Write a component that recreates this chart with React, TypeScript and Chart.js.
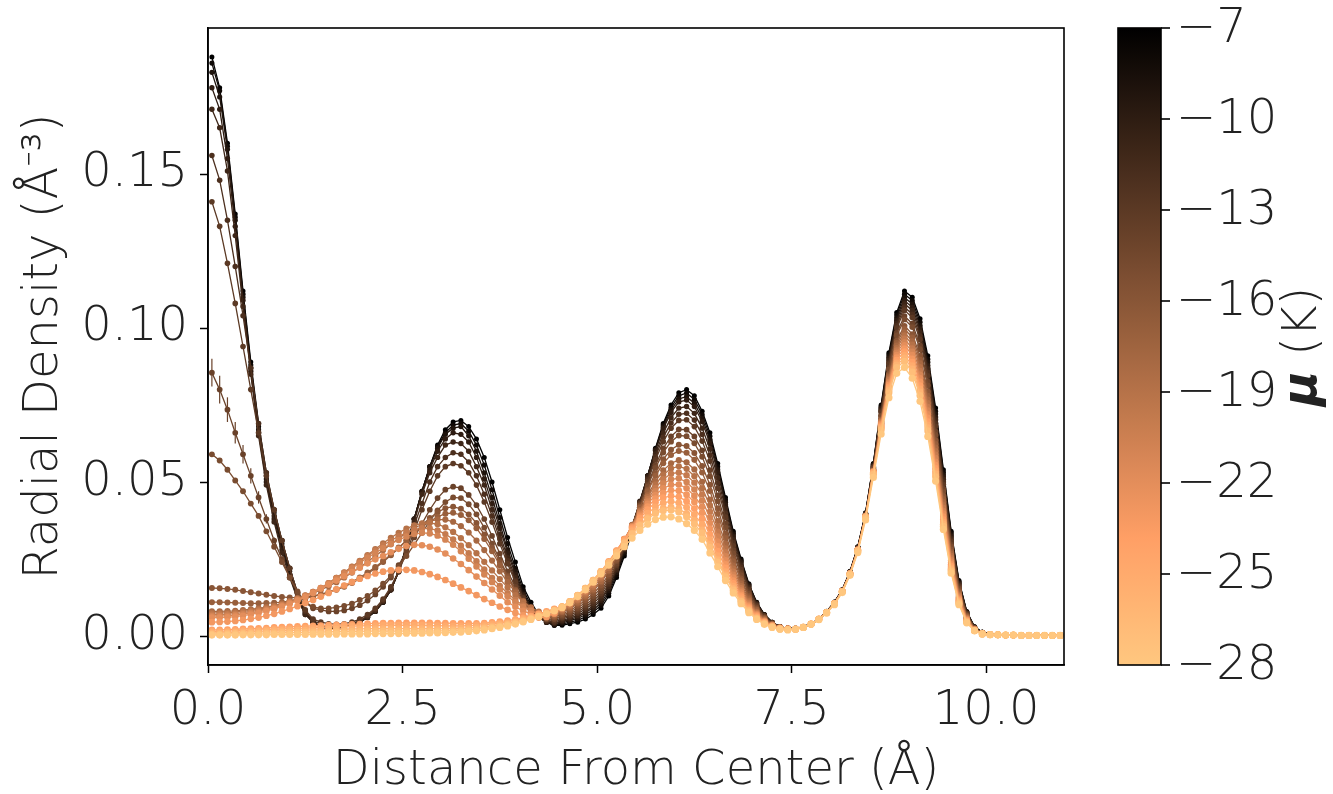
import { useEffect, useRef } from 'react';
import { Chart, registerables } from 'chart.js';

Chart.register(...registerables);

// Distance from the center (Å), bin centres
const distance = [
  0.05, 0.15, 0.25, 0.35, 0.45, 0.55, 0.65, 0.75, 0.85, 0.95,
  1.05, 1.15, 1.25, 1.35, 1.45, 1.55, 1.65, 1.75, 1.85, 1.95,
  2.05, 2.15, 2.25, 2.35, 2.45, 2.55, 2.65, 2.75, 2.85, 2.95,
  3.05, 3.15, 3.25, 3.35, 3.45, 3.55, 3.65, 3.75, 3.85, 3.95,
  4.05, 4.15, 4.25, 4.35, 4.45, 4.55, 4.65, 4.75, 4.85, 4.95,
  5.05, 5.15, 5.25, 5.35, 5.45, 5.55, 5.65, 5.75, 5.85, 5.95,
  6.05, 6.15, 6.25, 6.35, 6.45, 6.55, 6.65, 6.75, 6.85, 6.95,
  7.05, 7.15, 7.25, 7.35, 7.45, 7.55, 7.65, 7.75, 7.85, 7.95,
  8.05, 8.15, 8.25, 8.35, 8.45, 8.55, 8.65, 8.75, 8.85, 8.95,
  9.05, 9.15, 9.25, 9.35, 9.45, 9.55, 9.65, 9.75, 9.85, 9.95,
  10.05, 10.15, 10.25, 10.35, 10.45, 10.55, 10.65, 10.75, 10.85, 10.95,
];

// Chemical potentials (K) of the curves
const muValues = [-7, -8, -9, -10, -11, -12, -13, -14, -15, -16, -17, -18, -19, -20, -21, -22, -23, -24, -25, -26, -27, -28];

// Radial density (Å^-3), one array per chemical potential
const rhoMu7 = [.188,.178,.160,.137,.112,.089,.069,.053,.041,.031,.022,.014,.008,.0045,.003,
  .0025,.0025,.003,.0035,.0045,.006,.008,.011,.015,.021,.029,.038,.047,.055,.062,.067,.0695,.070,.068,.064,.058,.050,.041,.032,.024,.016,.011,.007,.0045,.0035,
  .0035,.004,.0045,.0055,.007,.009,.013,.019,.026,.034,.043,.052,.061,.069,.075,.079,.080,.078,.073,.066,.056,.045,.034,.025,.017,.011,.007,.0045,.003,.0025,
  .0025,.003,.004,.0055,.008,.011,.015,.021,.029,.040,.056,.075,.092,.105,.112,.110,.103,.091,.074,.054,.034,.018,.008,.003,.0012,.0006,
  .0004,.0003,.0003,.0002,.0002,.0002,.0002,.0002,.0002];
const rhoMu8 = [.186,.177,.159,.136,.111,.088,.068,.052,.040,.030,.021,.013,.0075,.0045,.003,
  .0025,.0025,.003,.0035,.0045,.006,.008,.011,.015,.021,.029,.038,.047,.055,.0615,.066,.0685,.069,.0665,.062,.0555,.0475,.0385,.030,.022,.015,.010,.0065,.0045,.0035,
  .0039,.0045,.0051,.0062,.0078,.0099,.0139,.0198,.0267,.0345,.0433,.052,.0607,.0685,.0742,.078,.0789,.0768,.0719,.0649,.055,.0442,.0334,.0246,.0167,.0109,.0069,.0045,.003,.0025,
  .0025,.003,.004,.0055,.0079,.011,.015,.0209,.0289,.0398,.0558,.0746,.0914,.1042,.111,.1089,.1019,.0899,.073,.0532,.0335,.0177,.0078,.003,.0012,.0006,
  .0004,.0003,.0003,.0002,.0002,.0002,.0002,.0002,.0002];
const rhoMu9 = [.183,.175,.158,.135,.110,.087,.067,.051,.039,.029,.020,.013,.0075,.0045,.003,
  .0025,.0026,.003,.0036,.0046,.006,.008,.011,.015,.021,.029,.038,.047,.055,.061,.0655,.0675,.068,.065,.060,.053,.045,.0365,.028,.021,.014,.0095,.0062,.0044,.0037,
  .0043,.005,.0057,.0069,.0085,.0107,.0147,.0206,.0273,.035,.0436,.052,.0605,.0679,.0734,.077,.0777,.0756,.0707,.0638,.054,.0434,.0329,.0242,.0165,.0107,.0069,.0044,.003,.0025,
  .0025,.0029,.0039,.0055,.008,.0109,.0149,.0208,.0288,.0398,.0556,.0741,.0907,.1033,.1099,.1078,.1008,.0889,.0721,.0524,.0329,.0174,.0078,.0028,.0012,.0006,
  .0004,.0003,.0003,.0002,.0002,.0002,.0002,.0002,.0002];
const rhoMu10 = [.178,.171,.155,.133,.109,.086,.066,.050,.038,.028,.020,.012,.007,.0045,.003,
  .0026,.0027,.0031,.0037,.0047,.0061,.0081,.0111,.015,.021,.029,.038,.0465,.054,.060,.064,.066,.0655,.063,.058,.051,.043,.035,.027,.020,.0135,.009,.006,.0045,.004,
  .0047,.0054,.0062,.0075,.0093,.0115,.0155,.0213,.028,.0355,.0438,.052,.0602,.0673,.0726,.076,.0766,.0745,.0696,.0626,.0531,.0426,.0323,.0238,.0162,.0106,.0068,.0044,.003,.0025,
  .0024,.0029,.004,.0054,.0079,.0109,.0149,.0208,.0287,.0396,.0554,.0738,.0901,.1025,.1089,.1067,.0997,.0878,.0711,.0517,.0324,.0171,.0076,.0028,.0012,.0006,
  .0004,.0003,.0003,.0002,.0002,.0002,.0002,.0002,.0002];
const rhoMu11 = [.171,.165,.151,.130,.107,.085,.065,.049,.037,.027,.019,.012,.007,.0045,.003,
  .0027,.0028,.0032,.0038,.0048,.0062,.0082,.0112,.015,.0208,.0285,.037,.046,.053,.058,.062,.063,.0625,.060,.055,.049,.041,.033,.0255,.019,.013,.0088,.006,.0047,.0042,
  .005,.0058,.0067,.008,.0098,.0121,.0161,.0217,.0282,.0354,.0434,.0513,.0591,.0659,.0709,.074,.0745,.0723,.0675,.0607,.0514,.0413,.0313,.0231,.0158,.0103,.0067,.0043,.003,.0025,
  .0024,.003,.004,.0055,.0079,.0108,.0148,.0207,.0286,.0395,.055,.0733,.0895,.1016,.1079,.1057,.0986,.0868,.0702,.0509,.0318,.0168,.0074,.0028,.0012,.0006,
  .0004,.0003,.0003,.0002,.0002,.0002,.0002,.0002,.0002];
const rhoMu12 = [.156,.148,.135,.120,.104,.087,.069,.053,.041,.031,.022,.014,.008,.005,.0038,
  .003,.003,.0033,.004,.005,.0065,.0085,.0115,.0155,.021,.028,.036,.043,.050,.055,.058,.0595,.059,.0565,.052,.046,.039,.0315,.0245,.018,.0125,.0086,.0062,.005,.0045,
  .0055,.0063,.0073,.0088,.0106,.013,.0169,.0224,.0287,.0357,.0433,.0508,.0582,.0645,.0692,.072,.0723,.0701,.0654,.0587,.0497,.0399,.0303,.0223,.0153,.0101,.0065,.0043,.003,.0025,
  .0024,.003,.0039,.0054,.0078,.0108,.0148,.0206,.0286,.0394,.0549,.073,.0888,.1008,.1068,.1045,.0974,.0856,.0691,.05,.0312,.0164,.0073,.0028,.0011,.0006,
  .0004,.0003,.0003,.0002,.0002,.0002,.0002,.0002,.0002];
const rhoMu13 = [.141,.133,.121,.108,.094,.080,.066,.052,.041,.031,.022,.014,.0085,.0055,.0045,
  .004,.0038,.004,.0045,.0055,.007,.009,.012,.016,.021,.027,.034,.041,.047,.052,.055,.056,.0553,.053,.049,.0435,.037,.030,.0235,.0175,.0123,.0088,.0065,.0053,.005,
  .0059,.0068,.0079,.0094,.0114,.0138,.0177,.023,.0291,.0358,.0431,.0502,.0572,.0631,.0675,.07,.0702,.068,.0633,.0568,.048,.0386,.0293,.0216,.0149,.0098,.0064,.0042,.0029,.0025,
  .0025,.0029,.004,.0055,.0079,.0108,.0148,.0206,.0285,.0394,.0548,.0726,.0883,.1,.1058,.1034,.0963,.0845,.0681,.0492,.0307,.0161,.0071,.0026,.0011,.0006,
  .0004,.0003,.0003,.0002,.0002,.0002,.0002,.0002,.0002];
const rhoMu14 = [.0855,.080,.0735,.066,.059,.052,.045,.038,.031,.025,.019,.014,.011,.009,.0085,
  .008,.008,.0083,.009,.010,.0115,.0135,.016,.019,.023,.0273,.032,.0365,.041,.0448,.0475,.0485,.048,.0458,.0425,.038,.0325,.0268,.021,.016,.0117,.0085,.0065,.0055,.0055,
  .0063,.0073,.0085,.0101,.0121,.0146,.0184,.0235,.0293,.0357,.0425,.0491,.0555,.0609,.0648,.0671,.067,.0648,.0603,.0539,.0456,.0366,.0278,.0205,.0142,.0094,.0061,.0041,.0029,.0025,
  .0024,.0029,.0039,.0054,.0078,.0107,.0147,.0204,.0282,.039,.0543,.0716,.087,.0984,.1039,.1014,.0943,.0826,.0664,.0478,.0297,.0156,.0069,.0026,.001,.0006,
  .0004,.0003,.0003,.0002,.0002,.0002,.0002,.0002,.0002];
const rhoMu15 = [.059,.057,.054,.0505,.047,.043,.039,.034,.029,.024,.019,.0145,.011,.0095,.009,
  .009,.0093,.0098,.0105,.0117,.013,.0148,.017,.0196,.0225,.026,.0297,.0335,.0373,.0408,.0435,.045,.0448,.0428,.0395,.0352,.030,.0248,.0197,.015,.011,.008,.0063,.0055,.0056,
  .0067,.0078,.0091,.0109,.013,.0155,.0193,.0243,.0298,.0359,.0424,.0486,.0546,.0596,.0631,.0651,.0649,.0626,.0582,.0519,.0438,.0352,.0268,.0198,.0137,.0091,.006,.004,.0029,.0025,
  .0024,.0029,.0039,.0054,.0078,.0107,.0146,.0204,.0282,.039,.0542,.0714,.0865,.0976,.1028,.1003,.0931,.0814,.0653,.0469,.0291,.0152,.0067,.0025,.001,.0006,
  .0004,.0003,.0003,.0002,.0002,.0002,.0002,.0002,.0002];
const rhoMu16 = [.0156,.0155,.0153,.015,.0146,.0142,.0138,.0134,.013,.0127,.0125,.0125,.0127,.013,.0135,
  .0142,.015,.016,.0172,.0186,.0202,.022,.024,.0262,.0285,.031,.0335,.036,.0383,.0402,.0415,.042,.0413,.0395,.0367,.033,.0287,.024,.0193,.015,.0113,.0085,.0066,.0059,.0061,
  .0072,.0083,.0098,.0116,.0138,.0164,.02,.0248,.0301,.0358,.0418,.0475,.0529,.0574,.0605,.0621,.0617,.0594,.0552,.0491,.0414,.0332,.0253,.0187,.013,.0087,.0058,.0039,.0028,.0024,
  .0023,.0029,.0039,.0054,.0077,.0106,.0145,.0202,.028,.0387,.0536,.0704,.0851,.0959,.1007,.098,.0909,.0793,.0635,.0455,.0281,.0146,.0064,.0024,.001,.0005,
  .0004,.0003,.0003,.0002,.0002,.0002,.0002,.0002,.0002];
const rhoMu17 = [.011,.011,.0109,.0108,.0107,.0106,.0106,.0107,.0108,.011,.0113,.0117,.0122,.0128,.0135,
  .0143,.0152,.0163,.0176,.019,.0206,.0224,.0244,.0265,.0287,.031,.0332,.0353,.0372,.0387,.0397,.040,.0393,.0376,.035,.0315,.0275,.023,.0187,.0147,.0112,.0085,.0067,.0061,.0064,
  .0077,.0089,.0105,.0124,.0147,.0174,.021,.0256,.0307,.0361,.0417,.047,.052,.0561,.0588,.0601,.0595,.0572,.0531,.0471,.0397,.0318,.0243,.018,.0125,.0085,.0056,.0038,.0028,.0024,
  .0023,.0029,.0038,.0054,.0077,.0105,.0146,.0203,.028,.0388,.0536,.0702,.0846,.0951,.0997,.0969,.0897,.078,.0623,.0445,.0273,.0142,.0063,.0023,.001,.0005,
  .0004,.0003,.0003,.0002,.0002,.0002,.0002,.0002,.0002];
const rhoMu18 = [.008,.008,.0081,.0082,.0084,.0087,.009,.0094,.0099,.0105,.0112,.012,.0129,.0139,.015,
  .0162,.0175,.019,.0206,.0223,.0241,.026,.0279,.0298,.0317,.0335,.035,.0363,.0373,.0378,.0378,.0371,.0357,.0336,.031,.0279,.0245,.021,.0175,.0142,.0113,.0088,.0072,.0065,.0068,
  .008,.0093,.0109,.0129,.0152,.0179,.0214,.0259,.0307,.0357,.0409,.0457,.0502,.0538,.0561,.0571,.0564,.0541,.0501,.0443,.0373,.0299,.0229,.017,.0119,.008,.0054,.0037,.0027,.0024,
  .0023,.0028,.0039,.0054,.0077,.0106,.0145,.0202,.0279,.0387,.0536,.0699,.0841,.0943,.0986,.0957,.0885,.0768,.0612,.0435,.0267,.0138,.006,.0023,.001,.0005,
  .0004,.0003,.0003,.0002,.0002,.0002,.0002,.0002,.0002];
const rhoMu19 = [.0075,.0075,.0076,.0078,.008,.0083,.0087,.0092,.0098,.0105,.0113,.0122,.0132,.0143,.0155,
  .0172,.0189,.0207,.0225,.0244,.0263,.0282,.0301,.0319,.0335,.0349,.0359,.0366,.0367,.0363,.0353,.0338,.0318,.0295,.0269,.0241,.0213,.0185,.0158,.0133,.0111,.0093,.0079,.0071,.0072,
  .0083,.0097,.0115,.0135,.0159,.0187,.0221,.0264,.031,.0358,.0406,.0451,.0492,.0524,.0544,.0551,.0543,.0519,.048,.0424,.0356,.0285,.0219,.0162,.0114,.0078,.0052,.0036,.0027,.0024,
  .0023,.0029,.0039,.0054,.0077,.0106,.0145,.0203,.028,.0388,.0535,.0697,.0836,.0935,.0976,.0946,.0873,.0756,.06,.0425,.026,.0134,.0059,.0022,.0009,.0005,
  .0004,.0003,.0003,.0002,.0002,.0002,.0002,.0002,.0002];
const rhoMu20 = [.007,.007,.0071,.0073,.0076,.0079,.0083,.0088,.0094,.0101,.011,.012,.0131,.0143,.0156,
  .0172,.0189,.0206,.0224,.0242,.026,.0278,.0295,.031,.0324,.0336,.0345,.035,.0349,.0343,.0331,.0314,.0293,.0269,.0243,.0216,.0189,.0163,.0139,.0117,.0099,.0085,.0075,.0069,.0072,
  .0087,.0101,.0119,.0141,.0165,.0193,.0228,.0269,.0313,.0358,.0403,.0444,.0481,.0509,.0527,.0531,.0522,.0498,.046,.0404,.0339,.0272,.0209,.0155,.0109,.0075,.0051,.0035,.0027,.0024,
  .0023,.0029,.0039,.0055,.0077,.0106,.0145,.0203,.028,.0388,.0534,.0694,.0831,.0927,.0965,.0934,.0861,.0744,.0589,.0416,.0253,.013,.0056,.0022,.0009,.0005,
  .0004,.0003,.0003,.0002,.0002,.0002,.0002,.0002,.0002];
const rhoMu21 = [.0065,.0065,.0066,.0068,.0071,.0075,.0079,.0085,.0091,.0099,.0108,.0118,.013,.0142,.0156,
  .0171,.0187,.0203,.022,.0237,.0254,.027,.0285,.0299,.0312,.0323,.0331,.0335,.0333,.0326,.0313,.0296,.0275,.0251,.0226,.02,.0175,.0151,.0129,.011,.0094,.0081,.0072,.0068,.0072,
  .0089,.0105,.0124,.0145,.0171,.0199,.0233,.0273,.0314,.0357,.0399,.0437,.047,.0495,.0509,.0512,.05,.0476,.044,.0385,.0323,.0259,.0199,.0148,.0105,.0072,.0049,.0035,.0026,.0023,
  .0023,.0028,.0039,.0055,.0077,.0105,.0146,.0202,.0279,.0388,.0534,.0691,.0825,.092,.0954,.0923,.0848,.0732,.0578,.0406,.0246,.0126,.0055,.0021,.0009,.0005,
  .0004,.0003,.0003,.0002,.0002,.0002,.0002,.0002,.0002];
const rhoMu22 = [.006,.006,.0061,.0063,.0066,.007,.0075,.0081,.0088,.0096,.0105,.0115,.0127,.014,.0154,
  .0167,.018,.0194,.0208,.0222,.0236,.0249,.026,.0272,.0283,.0292,.0296,.0295,.029,.0281,.0268,.0252,.0234,.0214,.0193,.0172,.0151,.0131,.011,.0095,.0082,.0072,.0066,.0066,.0073,
  .0092,.0107,.0127,.0149,.0175,.0204,.0237,.0275,.0315,.0355,.0394,.0429,.0458,.048,.0491,.0492,.048,.0455,.042,.0367,.0307,.0246,.019,.0141,.01,.007,.0048,.0034,.0026,.0023,
  .0023,.0029,.0039,.0054,.0077,.0105,.0146,.0203,.028,.0388,.0533,.0688,.082,.0912,.0944,.0912,.0837,.072,.0566,.0397,.0239,.0122,.0053,.002,.0008,.0005,
  .0004,.0003,.0003,.0002,.0002,.0002,.0002,.0002,.0002];
const rhoMu23 = [.0045,.0046,.0047,.0049,.0052,.0056,.006,.0066,.0072,.008,.0088,.0097,.0107,.0117,.0128,
  .014,.0152,.0164,.0175,.0186,.0195,.0203,.0209,.0213,.0215,.0215,.0213,.0208,.0201,.0192,.0182,.017,.0158,.0146,.0133,.012,.0108,.0096,.0085,.0075,.0067,.0062,.006,.0062,.0075,
  .0094,.011,.013,.0153,.0178,.0207,.024,.0277,.0315,.0353,.0388,.042,.0446,.0464,.0473,.0472,.0459,.0435,.04,.0348,.0291,.0233,.018,.0134,.0096,.0067,.0046,.0033,.0025,.0023,
  .0023,.0029,.0039,.0055,.0077,.0106,.0145,.0202,.0279,.0388,.0532,.0685,.0815,.0904,.0933,.09,.0825,.0708,.0555,.0388,.0233,.0118,.0051,.0019,.0008,.0005,
  .0004,.0003,.0003,.0002,.0002,.0002,.0002,.0002,.0002];
const rhoMu24 = [.002,.002,.0021,.0022,.0023,.0024,.0025,.0026,.0028,.0029,.003,.0031,.0032,.0033,.0034,
  .0035,.0036,.0037,.0038,.0039,.004,.0041,.0042,.0042,.0043,.0043,.0043,.0043,.0043,.0042,.0042,.0041,.0041,.0041,.0041,.0042,.0044,.0047,.005,.0054,.0059,.0065,.0072,.008,.0088,
  .0095,.0112,.0132,.0155,.0181,.021,.0242,.0277,.0313,.0349,.0382,.041,.0434,.0449,.0455,.0452,.0438,.0414,.0381,.033,.0276,.0221,.0171,.0128,.0091,.0064,.0044,.0032,.0025,.0022,
  .0022,.0028,.0039,.0055,.0077,.0105,.0145,.0203,.0279,.0388,.0531,.0681,.0809,.0896,.0923,.0889,.0813,.0696,.0544,.0378,.0227,.0115,.0049,.0018,.0007,.0005,
  .0004,.0003,.0003,.0002,.0002,.0002,.0002,.0002,.0002];
const rhoMu25 = [.0015,.0015,.0016,.0017,.0018,.0019,.002,.0021,.0022,.0023,.0024,.0025,.0026,.0027,.0028,
  .0029,.003,.0031,.0032,.0033,.0034,.0034,.0035,.0035,.0035,.0035,.0035,.0035,.0034,.0034,.0033,.0033,.0033,.0034,.0035,.0037,.0039,.0042,.0046,.0051,.0056,.0062,.0069,.0077,.0086,
  .0095,.0112,.0132,.0155,.0181,.021,.024,.0275,.0309,.0342,.0373,.0399,.0419,.0432,.0437,.0432,.0418,.0394,.0362,.0313,.0261,.0209,.0162,.0121,.0087,.0061,.0043,.0031,.0024,.0022,
  .0022,.0028,.0039,.0055,.0076,.0105,.0145,.0202,.0278,.0387,.053,.0678,.0803,.0887,.0912,.0878,.0802,.0685,.0534,.037,.0221,.0112,.0048,.0018,.0007,.0005,
  .0004,.0003,.0003,.0002,.0002,.0002,.0002,.0002,.0002];
const rhoMu26 = [.001,.001,.0011,.0012,.0013,.0014,.0015,.0016,.0017,.0017,.0018,.0019,.0019,.002,.002,
  .0021,.0022,.0022,.0023,.0023,.0024,.0024,.0024,.0024,.0024,.0024,.0024,.0024,.0024,.0024,.0024,.0024,.0025,.0026,.0028,.003,.0033,.0037,.0041,.0046,.0052,.0059,.0066,.0075,.0084,
  .0094,.011,.0131,.0154,.0179,.0207,.0237,.0269,.0302,.0334,.0362,.0385,.0404,.0415,.0418,.0413,.0398,.0375,.0344,.0297,.0248,.0198,.0154,.0115,.0083,.0059,.0041,.003,.0023,.0021,
  .0022,.0028,.0038,.0054,.0076,.0105,.0145,.0201,.0277,.0385,.0527,.0674,.0797,.088,.0903,.0867,.0792,.0676,.0526,.0363,.0216,.0109,.0046,.0018,.0007,.0005,
  .0004,.0003,.0003,.0002,.0002,.0002,.0002,.0002,.0002];
const rhoMu27 = [.0006,.0006,.0007,.0008,.0008,.0009,.0009,.001,.001,.0011,.0011,.0012,.0012,.0013,.0013,
  .0014,.0014,.0015,.0015,.0015,.0016,.0016,.0016,.0016,.0016,.0016,.0016,.0016,.0016,.0017,.0017,.0018,.0019,.002,.0022,.0025,.0028,.0032,.0037,.0043,.0049,.0056,.0064,.0073,.0083,
  .0095,.0112,.0132,.0155,.0181,.0209,.0238,.027,.0302,.0332,.0359,.0381,.0398,.0407,.0409,.0403,.0387,.0364,.0334,.0288,.024,.0192,.0149,.0112,.0081,.0057,.004,.0029,.0023,.0021,
  .0022,.0028,.0039,.0055,.0076,.0105,.0144,.02,.0276,.0384,.0524,.0669,.079,.0872,.0892,.0857,.0781,.0666,.0517,.0356,.0211,.0106,.0045,.0017,.0007,.0004,
  .0004,.0003,.0003,.0002,.0002,.0002,.0002,.0002,.0002];
const rhoMu28 = [.0003,.0003,.0003,.0003,.0004,.0004,.0004,.0004,.0005,.0005,.0005,.0005,.0005,.0006,.0006,
  .0006,.0006,.0007,.0007,.0007,.0007,.0008,.0008,.0008,.0008,.0009,.0009,.0009,.001,.001,.0011,.0012,.0013,.0015,.0017,.002,.0024,.0028,.0033,.0039,.0046,.0054,.0063,.0072,.0082,
  .0092,.0108,.0128,.015,.0175,.0202,.023,.026,.029,.0318,.0343,.0363,.0378,.0386,.0387,.038,.0365,.0343,.0314,.027,.0225,.018,.014,.0105,.0076,.0054,.0038,.0028,.0022,.002,
  .0022,.0028,.0038,.0053,.0075,.0102,.0141,.0197,.0271,.0377,.0515,.0656,.0774,.0853,.0872,.0837,.0762,.0648,.0503,.0346,.0204,.0102,.0043,.0017,.0007,.0004,
  .0004,.0003,.0003,.0002,.0002,.0002,.0002,.0002,.0002];

const densitySeries = [rhoMu7, rhoMu8, rhoMu9, rhoMu10, rhoMu11, rhoMu12, rhoMu13, rhoMu14, rhoMu15, rhoMu16, rhoMu17,
  rhoMu18, rhoMu19, rhoMu20, rhoMu21, rhoMu22, rhoMu23, rhoMu24, rhoMu25, rhoMu26, rhoMu27, rhoMu28];

// Statistical error bars visible on the mu = -14 K curve near the center
const errMu14 = [0.0045, 0.0045, 0.004, 0.0035, 0.003, 0.0025, 0.002, 0.0015, 0.001];
const errSeriesMu = -14;

const xTickValues = [0, 2.5, 5, 7.5, 10];
const yTickValues = [0, 0.05, 0.1, 0.15];
const colorbarTicks = [-7, -10, -13, -16, -19, -22, -25, -28];
const MU_TOP = -7;
const MU_BOTTOM = -28;

function copperColor(f: number): string {
  const r = Math.round(Math.min(1, 1.25 * f) * 255);
  const g = Math.round(0.7812 * f * 255);
  const b = Math.round(0.4975 * f * 255);
  return `rgb(${r}, ${g}, ${b})`;
}
const fracOf = (mu: number) => (MU_TOP - mu) / (MU_TOP - MU_BOTTOM);

const FONT_FAMILY = "'DejaVu Sans', 'Noto Sans', sans-serif";
const FONT_WEIGHT = '200';
const TEXT_COLOR = '#222222';

export default function App() {
  const ref = useRef<HTMLCanvasElement>(null);

  useEffect(() => {
    const canvas = ref.current;
    if (!canvas) return;

    const datasets = densitySeries.map((vals, i) => {
      const f = fracOf(muValues[i]);
      const c = copperColor(f);
      return {
        label: `μ = ${muValues[i]} K`,
        data: vals.map((v, k) => ({ x: distance[k], y: v })),
        borderColor: c,
        backgroundColor: c,
        pointBackgroundColor: c,
        pointBorderColor: c,
        pointBorderWidth: 0,
        pointRadius: 2.5 + 1.1 * f,
        borderWidth: 1.3,
        tension: 0,
        order: densitySeries.length - i,
      };
    });

    const errorBarPlugin = {
      id: 'errorBars',
      afterDatasetsDraw(chart: any) {
        const idx = muValues.indexOf(errSeriesMu);
        if (idx < 0) return;
        const { ctx, scales } = chart;
        const c = copperColor(fracOf(errSeriesMu));
        ctx.save();
        ctx.strokeStyle = c;
        ctx.lineWidth = 1.2;
        errMu14.forEach((e, k) => {
          const px = scales.x.getPixelForValue(distance[k]);
          const y1 = scales.y.getPixelForValue(densitySeries[idx][k] - e);
          const y2 = scales.y.getPixelForValue(densitySeries[idx][k] + e);
          ctx.beginPath();
          ctx.moveTo(px, y1);
          ctx.lineTo(px, y2);
          ctx.stroke();
        });
        ctx.restore();
      },
    };

    const framePlugin = {
      id: 'frame',
      afterDraw(chart: any) {
        const { ctx, chartArea: a } = chart;
        ctx.save();
        ctx.strokeStyle = '#000';
        ctx.lineWidth = 1.6;
        ctx.strokeRect(a.left, a.top, a.right - a.left, a.bottom - a.top);
        ctx.restore();
      },
    };

    const colorbarPlugin = {
      id: 'colorbar',
      afterDraw(chart: any) {
        const { ctx, chartArea: a } = chart;
        const top = a.top;
        const bottom = a.bottom;
        const left = 1118;
        const width = 43;
        ctx.save();
        const grad = ctx.createLinearGradient(0, top, 0, bottom);
        for (let i = 0; i <= 40; i++) {
          grad.addColorStop(i / 40, copperColor(i / 40));
        }
        ctx.fillStyle = grad;
        ctx.fillRect(left, top, width, bottom - top);
        ctx.strokeStyle = '#000';
        ctx.lineWidth = 1.6;
        ctx.strokeRect(left, top, width, bottom - top);
        ctx.font = `${FONT_WEIGHT} 48px ${FONT_FAMILY}`;
        ctx.fillStyle = TEXT_COLOR;
        ctx.textAlign = 'left';
        ctx.textBaseline = 'middle';
        colorbarTicks.forEach((mu) => {
          const y = top + fracOf(mu) * (bottom - top);
          ctx.beginPath();
          ctx.moveTo(left + width, y);
          ctx.lineTo(left + width + 9, y);
          ctx.stroke();
          ctx.fillText(`\u2212${Math.abs(mu)}`, left + width + 15, y + 2);
        });
        // colorbar label, rotated
        ctx.translate(1304, (top + bottom) / 2);
        ctx.rotate(-Math.PI / 2);
        const muFont = `italic bold 48px ${FONT_FAMILY}`;
        const kFont = `${FONT_WEIGHT} 48px ${FONT_FAMILY}`;
        ctx.font = muFont;
        const wMu = ctx.measureText('μ').width;
        ctx.font = kFont;
        const wK = ctx.measureText(' (K)').width;
        const start = -(wMu + wK) / 2;
        ctx.font = muFont;
        ctx.fillText('μ', start, 0);
        ctx.font = kFont;
        ctx.fillText(' (K)', start + wMu, 0);
        ctx.restore();
      },
    };

    const tickFont = { family: FONT_FAMILY, size: 48, weight: FONT_WEIGHT as any };

    const chart = new Chart(canvas, {
      type: 'line',
      data: { datasets: datasets as any },
      options: {
        responsive: false,
        animation: false,
        events: [],
        layout: { padding: { left: 0, top: 28, right: 269, bottom: 0 } },
        plugins: {
          legend: { display: false },
          tooltip: { enabled: false },
        },
        scales: {
          x: {
            type: 'linear',
            min: 0,
            max: 11,
            afterFit: (s: any) => { s.height = 129; s.paddingLeft = 0; s.paddingRight = 0; },
            afterBuildTicks: (s: any) => { s.ticks = xTickValues.map((v) => ({ value: v })); },
            ticks: {
              font: tickFont,
              color: TEXT_COLOR,
              padding: 10,
              maxRotation: 0,
              autoSkip: false,
              callback: (v: any) => Number(v).toFixed(1),
            },
            grid: { display: true, drawOnChartArea: false, drawTicks: true, tickLength: 8, tickWidth: 1.5, tickColor: '#000' },
            border: { display: true, color: '#000', width: 1.6 },
            title: {
              display: true,
              text: 'Distance From Center (Å)',
              font: tickFont,
              color: TEXT_COLOR,
              padding: { top: 0, bottom: -6 },
            },
          },
          y: {
            type: 'linear',
            min: -0.0094,
            max: 0.1974,
            afterFit: (s: any) => { s.width = 208; s.paddingTop = 0; s.paddingBottom = 0; },
            afterBuildTicks: (s: any) => { s.ticks = yTickValues.map((v) => ({ value: v })); },
            ticks: {
              font: tickFont,
              color: TEXT_COLOR,
              padding: 12,
              autoSkip: false,
              callback: (v: any) => Number(v).toFixed(2),
            },
            grid: { display: true, drawOnChartArea: false, drawTicks: true, tickLength: 8, tickWidth: 1.5, tickColor: '#000' },
            border: { display: true, color: '#000', width: 1.6 },
            title: {
              display: true,
              text: 'Radial Density (Å⁻³)',
              font: tickFont,
              color: TEXT_COLOR,
              padding: { top: 16, bottom: 0 },
            },
          },
        },
      },
      plugins: [errorBarPlugin, framePlugin, colorbarPlugin],
    });

    return () => chart.destroy();
  }, []);

  return (
    <div style={{ position: 'fixed', left: 0, top: 0, width: 1333, height: 794, background: '#fff' }}>
      <canvas ref={ref} width={1333} height={794} style={{ width: 1333, height: 794, display: 'block' }} />
    </div>
  );
}
